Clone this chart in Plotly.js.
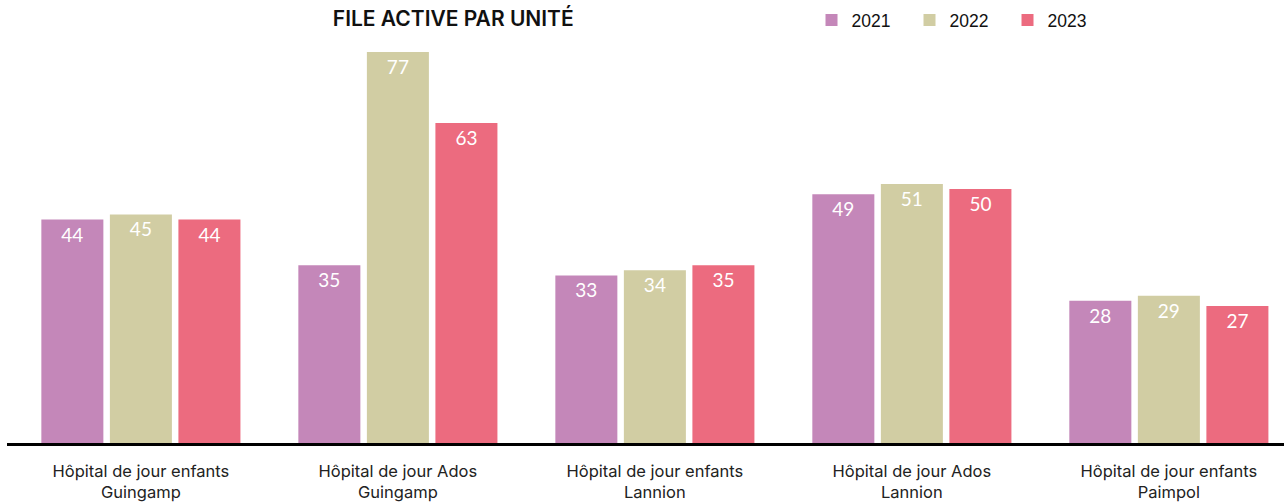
<!DOCTYPE html>
<html><head><meta charset="utf-8">
<script src="https://cdn.plot.ly/plotly-3.0.1.min.js"></script>
<style>html,body{margin:0;padding:0;background:#fff;}</style>
</head><body>
<div id="chart" style="width:1284px;height:503px;"></div>
<script>
const categories = ["Hôpital de jour enfants<br>Guingamp", "Hôpital de jour Ados<br>Guingamp", "Hôpital de jour enfants<br>Lannion", "Hôpital de jour Ados<br>Lannion", "Hôpital de jour enfants<br>Paimpol"];
const series2021 = [44, 35, 33, 49, 28];
const series2022 = [45, 77, 34, 51, 29];
const series2023 = [44, 63, 35, 50, 27];
const seriesNames = ["2021", "2022", "2023"];
const colors = ["#C487B9", "#D1CDA3", "#EC6B7F"];

const idx = categories.map((_, i) => i);
const allSeries = [series2021, series2022, series2023];
const traces = allSeries.map((vals, k) => ({
  type: "bar",
  x: idx,
  y: vals,
  name: seriesNames[k],
  marker: {color: colors[k]},
  text: vals.map(String),
  textposition: "inside",
  insidetextanchor: "end",
  textangle: 0,
  insidetextfont: {color: "#ffffff", size: 19, family: "Lato, sans-serif"},
  hoverinfo: "none"
}));

const layout = {
  width: 1284, height: 503,
  margin: {l: 7, r: 0, t: 10, b: 60, autoexpand: false},
  paper_bgcolor: "#ffffff", plot_bgcolor: "#ffffff",
  barmode: "group", bargap: 0.2, bargroupgap: 0.095,
  title: {text: "FILE ACTIVE PAR UNITÉ", x: 0.353, xanchor: "center", y: 0.963, yanchor: "middle",
          xref: "container", yref: "container", automargin: false,
          font: {family: "Inter, sans-serif", size: 21, color: "#111111", weight: 600}},
  xaxis: {range: [-0.521, 4.448], tickvals: idx, ticktext: categories, automargin: false,
          showline: true, linecolor: "#000000", linewidth: 3, showgrid: false, zeroline: false,
          ticks: "", ticklabelstandoff: 11, tickfont: {family: "Inter, sans-serif", size: 16.5, color: "#222222"}},
  yaxis: {range: [0, 85.27], visible: false, showgrid: false, zeroline: false, automargin: false},
  showlegend: true,
  legend: {orientation: "h", x: 0.630, xanchor: "left", y: 0.96, yanchor: "middle", yref: "container",
           font: {family: "Liberation Sans, Arial, sans-serif", size: 17.5, color: "#111111"},
           entrywidth: 53, traceorder: "normal"},
  font: {family: "Inter, sans-serif"}
};
Plotly.newPlot("chart", traces, layout, {displayModeBar: false, staticPlot: true});
</script>
</body></html>
